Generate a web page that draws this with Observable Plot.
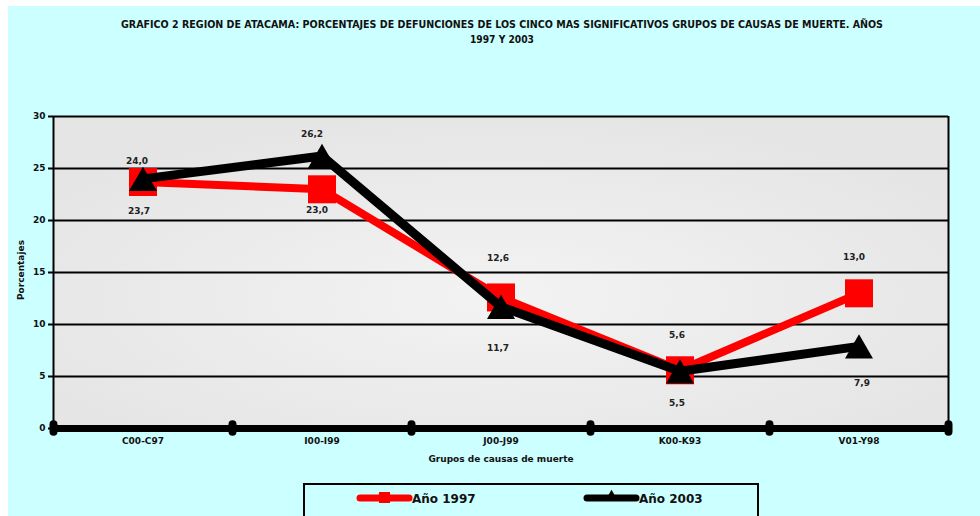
<!DOCTYPE html>
<html><head><meta charset="utf-8">
<script src="https://cdn.jsdelivr.net/npm/d3@7"></script>
<script src="https://cdn.jsdelivr.net/npm/@observablehq/plot@0.6"></script>
<style>body{margin:0;background:#fff;} #chart svg{display:block;}</style>
</head><body><div id="chart"></div>
<script>
// ---- data ----
const titleLines = ["GRAFICO 2 REGION DE ATACAMA: PORCENTAJES DE DEFUNCIONES DE LOS CINCO MAS SIGNIFICATIVOS GRUPOS DE CAUSAS DE MUERTE. AÑOS", "1997 Y 2003"];
const categories = ["C00-C97", "I00-I99", "J00-J99", "K00-K93", "V01-Y98"];
const seriesNames = ["Año 1997", "Año 2003"];
const values1997 = [23.7, 23.0, 12.6, 5.6, 13.0];
const values2003 = [24.0, 26.2, 11.7, 5.5, 7.9];
const yTicks = [0, 5, 10, 15, 20, 25, 30];
const xTitle = "Grupos de causas de muerte";
const yTitle = "Porcentajes";

// ---- layout (label placement) ----
const labelDy1997 = [29, 21, -39, -35, -36];
const labelDy2003 = [-18, -22, 41, 32, 37];
const labelDx1997 = [-4, -5, -3, -3, -5];
const labelDx2003 = [-6, -10, -3, -3, 3];
const colors = ["#ff0000", "#000000"];

const fmt = v => v.toFixed(1).replace(".", ",");
const rows = (vals, s, dys, dxs) => vals.map((v, i) => ({i, cat: categories[i], series: s, value: v, dy: dys[i], dx: dxs[i]}));
const d1997 = rows(values1997, seriesNames[0], labelDy1997, labelDx1997);
const d2003 = rows(values2003, seriesNames[1], labelDy2003, labelDx2003);
const n = categories.length;
const boundaries = d3.range(n + 1);
const X = d => d.i + 0.5;

const W = 980, H = 516;
const chart = Plot.plot({
  width: W, height: H,
  marginLeft: 53, marginRight: 32, marginTop: 116, marginBottom: 88,
  style: {fontFamily: "DejaVu Sans", fontSize: "9px", fontWeight: "bold", background: "transparent", color: "#000"},
  x: {type: "linear", domain: [0, n]},
  y: {domain: [0, 30]},
  marks: [
    Plot.ruleY(yTicks.filter(t => t > 0), {stroke: "#000", strokeWidth: 2}),
    Plot.ruleX([0, n], {stroke: "#000", strokeWidth: 2}),
    Plot.axisY({ticks: yTicks, tickSize: 5, tickPadding: 3, label: null, fill: "#111", stroke: "#000", strokeWidth: 2}),
    Plot.axisX({ticks: categories.map((c, i) => i + 0.5), tickFormat: v => categories[Math.floor(v)], tickSize: 0, tickPadding: 9, label: null, fill: "#111"}),
    Plot.ruleY([0], {stroke: "#000", strokeWidth: 7}),
    Plot.ruleX(boundaries, {x: d => d, y1: -0.35, y2: 0.35, stroke: "#000", strokeWidth: 8, strokeLinecap: "round"}),
    Plot.line(d1997, {x: X, y: "value", stroke: colors[0], strokeWidth: 8}),
    Plot.dot(d1997, {x: X, y: "value", symbol: "square", r: 15.8, fill: colors[0], stroke: null}),
    Plot.line(d2003, {x: X, y: "value", stroke: colors[1], strokeWidth: 9}),
    Plot.dot(d2003, {x: X, y: "value", symbol: "triangle", r: 10.4, fill: colors[1], stroke: null, dy: 4}),
    ...[...d1997, ...d2003].map(d => Plot.text([d], {x: X, y: "value", text: d => fmt(d.value), dy: d.dy, dx: d.dx, fill: "#222", fontSize: 9, fontWeight: "bold", lineAnchor: "middle", textAnchor: "middle"}))
  ]
});

const svg = d3.select(chart);
const xr = chart.scale("x").range, yr = chart.scale("y").range;
// background: white border + cyan
const defs = svg.insert("defs", ":first-child");
const g = defs.append("radialGradient").attr("id", "plotBg").attr("cx", "50%").attr("cy", "58%").attr("r", "60%");
g.append("stop").attr("offset", "0%").attr("stop-color", "#f3f3f3");
g.append("stop").attr("offset", "100%").attr("stop-color", "#e5e5e5");
svg.insert("rect", "defs + *").attr("x", Math.min(...xr)).attr("y", Math.min(...yr)).attr("width", Math.abs(xr[1] - xr[0])).attr("height", Math.abs(yr[1] - yr[0])).attr("fill", "url(#plotBg)");
svg.insert("rect", "defs + *").attr("x", 8).attr("y", 6).attr("width", W - 8).attr("height", H - 6).attr("fill", "#ccffff");
svg.insert("rect", "defs + *").attr("x", 0).attr("y", 0).attr("width", W).attr("height", H).attr("fill", "#fff");

// title
const tg = svg.append("g").attr("font-family", "'Liberation Sans Narrow','DejaVu Sans Condensed','Liberation Sans',sans-serif").attr("font-weight", "bold").attr("font-size", 10).attr("fill", "#111").attr("text-anchor", "middle");
tg.append("text").attr("x", 502).attr("y", 28).attr("textLength", 762).attr("lengthAdjust", "spacingAndGlyphs").text(titleLines[0]);
tg.append("text").attr("x", 502).attr("y", 43).attr("textLength", 64).attr("lengthAdjust", "spacingAndGlyphs").text(titleLines[1]);

// axis titles
svg.append("text").attr("x", 501).attr("y", 462).attr("text-anchor", "middle").attr("font-size", 9).attr("font-weight", "bold").attr("fill", "#111").text(xTitle);
svg.append("text").attr("transform", "translate(24,270) rotate(-90)").attr("text-anchor", "middle").attr("font-size", 9).attr("font-weight", "bold").attr("fill", "#111").text(yTitle);

// legend
const lg = svg.append("g");
lg.append("rect").attr("x", 304).attr("y", 484).attr("width", 454).attr("height", 50).attr("fill", "none").attr("stroke", "#000").attr("stroke-width", 2);
const legX = [360, 587];
seriesNames.forEach((s, k) => {
  const x0 = legX[k];
  lg.append("line").attr("x1", x0).attr("x2", x0 + 49).attr("y1", 498).attr("y2", 498).attr("stroke", colors[k]).attr("stroke-width", 7).attr("stroke-linecap", "round");
  if (k === 0) lg.append("rect").attr("x", x0 + 19).attr("y", 492).attr("width", 11).attr("height", 11).attr("fill", colors[k]);
  else lg.append("path").attr("d", d3.symbol(d3.symbolTriangle, 70)()).attr("transform", `translate(${x0 + 24.5},497)`).attr("fill", colors[k]);
  lg.append("text").attr("x", x0 + 52).attr("y", 503).attr("text-anchor", "start").attr("font-size", 12).attr("font-weight", "bold").attr("fill", "#111").text(s);
});

document.getElementById("chart").appendChild(chart);
</script>
</body></html>
